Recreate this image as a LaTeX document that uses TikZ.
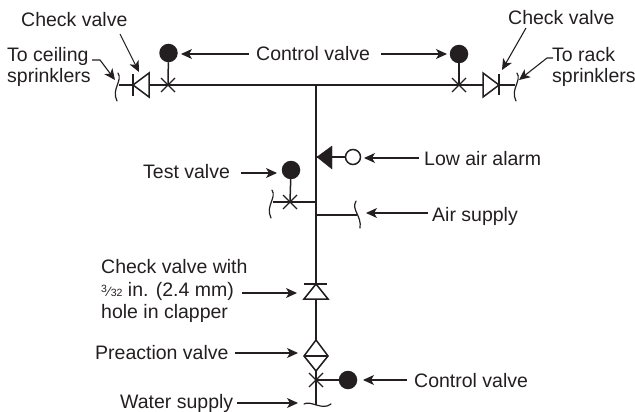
\documentclass[tikz,border=0pt]{standalone}
\usepackage{fontspec}
\setmainfont{Liberation Sans}
\usetikzlibrary{arrows.meta}
\definecolor{ink}{HTML}{231F20}
\tikzset{
  pipe/.style={draw=ink,line width=1.5pt},
  arr/.style={draw=ink,line width=1.1pt,-{Stealth[length=11pt,width=10pt,inset=3pt]}},
  lbl/.style={inner sep=0pt,anchor=base west,text=ink,font=\fontsize{19.5}{22.5}\selectfont},
  ball/.style={circle,fill=ink,minimum size=18.5pt,inner sep=0pt,outer sep=0pt},
  ring/.style={circle,draw=ink,line width=1.5pt,fill=white,minimum size=15pt,inner sep=0pt},
  sym/.style={draw=ink,line width=1.5pt,fill=white,line join=miter},
  pics/xmark/.style={code={\draw[pipe,line width=1.1pt] (-7,-7) -- (7,7) (-7,7) -- (7,-7);}},
  pics/vbreak/.style={code={\draw[pipe,line width=1.2pt,line cap=round] (1,-13) .. controls (6,-5) and (-6,3) .. (0,15);}},
  pics/vbreakm/.style={code={\draw[pipe,line width=1.2pt,line cap=round] (-1,-14) .. controls (-6,-5) and (5,1) .. (3,13);}},
  pics/hbreak/.style={code={\draw[pipe,line width=1.2pt,line cap=round] (-13,-1) .. controls (-6,-5) and (5,6) .. (14,-1);}},
}
\begin{document}
\begin{tikzpicture}[x=1pt,y=-1pt]
\useasboundingbox (0,0) rectangle (635,412);
% junctions
\coordinate (bl) at (119,85); \coordinate (br) at (515,85);
\coordinate (xl) at (168,85); \coordinate (xr) at (459,85);
\coordinate (tee) at (316,85); \coordinate (bot) at (316,405);
\coordinate (alarmj) at (316,157); \coordinate (testj) at (316,202);
\coordinate (airj) at (316,215); \coordinate (xt) at (290,202);
\coordinate (bt) at (273,202); \coordinate (ba) at (357,215);
\coordinate (xb) at (316,380);
% pipes
\draw[pipe] (bl) -- (br);
\draw[pipe,line width=2pt] (tee) -- (bot);
\draw[pipe] (testj) -- (bt);
\draw[pipe] (airj) -- (ba);
% balls
\node[ball] (cv1) at (168.5,53) {};
\node[ball] (cv2) at (459,54) {};
\node[ball] (tv) at (291,170) {};
\node[ball] (cv3) at (348,380) {};
\node[ring] (la) at (353,157) {};
\draw[pipe] (cv1) -- (xl);
\draw[pipe] (cv2) -- (xr);
\draw[pipe] (tv) -- (xt);
\draw[pipe] (cv3) -- (xb);
\draw[pipe] (la) -- (alarmj);
% x marks and breaks
\pic at (xl) {xmark}; \pic at (xr) {xmark}; \pic at (xt) {xmark}; \pic at (xb) {xmark};
\pic at (117,86) {vbreak}; \pic at (516,86) {vbreak}; \pic at (271,203) {vbreak};
\pic at (357,215) {vbreakm}; \pic at (317,405) {hbreak};
% check valves
\draw[sym] (133,85) -- (149,73) -- (149,97) -- cycle; \draw[pipe] (133,74) -- (133,96);
\draw[sym] (499,85) -- (483,73) -- (483,97) -- cycle; \draw[pipe] (499,74) -- (499,95);
\draw[sym] (316,284) -- (304,299) -- (328,299) -- cycle; \draw[pipe] (304,284) -- (327,284);
% alarm triangle
\draw[fill=ink,draw=ink] (317,157) -- (332,146) -- (332,169) -- cycle;
% preaction valve
\draw[sym] (316,340) -- (304,356) -- (316,371) -- (328,356) -- cycle; \draw[pipe] (304,356) -- (328,356);
% labels
\node[lbl] (tcv1) at (21,27) {Check valve};
\node[lbl] (tcv2) at (508,25) {Check valve};
\node[lbl] (tceil) at (7,62) {To ceiling};
\node[lbl] (tceil2) at (7,83) {sprinklers};
\node[lbl] (track) at (552,62) {To rack};
\node[lbl] (track2) at (552,83) {sprinklers};
\node[lbl] (tctl) at (256,61) {Control valve};
\node[lbl] (tlow) at (424,165) {Low air alarm};
\node[lbl] (tair) at (432,221) {Air supply};
\node[lbl] (ttest) at (143,178) {Test valve};
\node[lbl] (th1) at (101,273) {Check valve with};
\node[lbl] (th2) at (101,296) {\raisebox{3.5pt}{\fontsize{10.5}{10.5}\selectfont 3}\kern0.8pt{\fontsize{13.5}{13.5}\selectfont ⁄}\kern0.8pt{\fontsize{10.5}{10.5}\selectfont 32} in. (2.4 mm)};
\node[lbl] (th3) at (101,318) {hole in clapper};
\node[lbl] (tpre) at (95,359) {Preaction valve};
\node[lbl] (tctl2) at (414,387) {Control valve};
\node[lbl] (twat) at (120,408) {Water supply};
% arrow ends
\coordinate (a1) at (249,54); \coordinate (a1e) at (181,54);
\coordinate (a2) at (381,54); \coordinate (a2e) at (447,54);
\coordinate (a3) at (120,34); \coordinate (a3e) at (139,72);
\coordinate (a4) at (526,28); \coordinate (a4e) at (502,70);
\coordinate (a5a) at (92,60); \coordinate (a5b) at (100,60); \coordinate (a5e) at (115,80);
\coordinate (a6a) at (553,58); \coordinate (a6b) at (547,58); \coordinate (a6e) at (519,80);
\coordinate (a7) at (419,158); \coordinate (a7e) at (364,158);
\coordinate (a8) at (241,173); \coordinate (a8e) at (277,173);
\coordinate (a9) at (428,213); \coordinate (a9e) at (366,213);
\coordinate (a10) at (242,293); \coordinate (a10e) at (297,293);
\coordinate (a11) at (235,353); \coordinate (a11e) at (298,353);
\coordinate (a12) at (407,380); \coordinate (a12e) at (363,380);
\coordinate (a13) at (237,403); \coordinate (a13e) at (298,403);
\draw[arr] (a1) -- (a1e);
\draw[arr] (a2) -- (a2e);
\draw[arr] (a3) -- (a3e);
\draw[arr] (a4) -- (a4e);
\draw[arr] (a5a) -- (a5b) -- (a5e);
\draw[arr] (a6a) -- (a6b) -- (a6e);
\draw[arr] (a7) -- (a7e);
\draw[arr] (a8) -- (a8e);
\draw[arr] (a9) -- (a9e);
\draw[arr] (a10) -- (a10e);
\draw[arr] (a11) -- (a11e);
\draw[arr] (a12) -- (a12e);
\draw[arr] (a13) -- (a13e);
\end{tikzpicture}
\end{document}
